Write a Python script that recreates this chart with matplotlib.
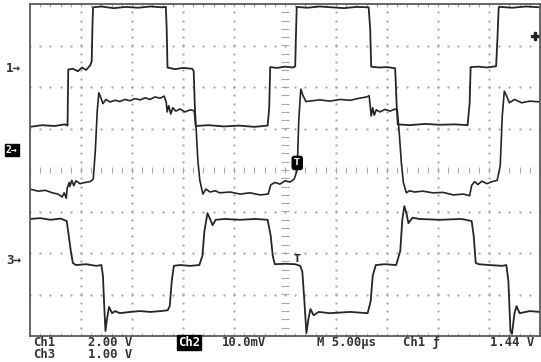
import numpy as np
import matplotlib
matplotlib.use("Agg")
import matplotlib.pyplot as plt

# scope screen: 10 div x 8 div, time in us (5 us/div), traces in screen divisions
ch1_t = [0.0, 1.2, 2.4, 3.4, 3.68, 3.75, 4.2, 4.7, 5.1, 5.5, 5.9, 6.05, 6.12, 6.18, 7.0, 8.2,
         9.4, 10.6, 11.8, 13.0, 13.32, 13.4, 13.48, 14.2, 15.0, 15.9, 16.05, 16.15, 16.25, 17.5,
         19.0, 20.5, 22.0, 23.3, 23.45, 23.55, 24.2, 25.0, 25.8, 26.0, 26.08, 26.15, 27.2, 28.4,
         29.6, 30.8, 32.0, 33.2, 33.35, 33.45, 34.2, 35.0, 35.8, 35.95, 36.05, 37.2, 38.7, 40.2,
         41.7, 42.9, 43.1, 43.2, 44.0, 44.8, 45.7, 45.85, 45.95, 46.05, 47.3, 48.6, 50.0]
ch1_v = [1.04, 1.08, 1.06, 1.10, 1.07, 2.42, 2.44, 2.38, 2.47, 2.41, 2.52, 2.62, 3.45, 3.92,
         3.94, 3.90, 3.93, 3.91, 3.94, 3.92, 3.93, 3.40, 2.47, 2.43, 2.46, 2.44, 2.38, 1.60, 1.06,
         1.08, 1.05, 1.07, 1.04, 1.07, 1.50, 2.48, 2.46, 2.49, 2.47, 2.50, 3.30, 3.93, 3.91, 3.94,
         3.92, 3.90, 3.93, 3.92, 3.40, 2.49, 2.47, 2.48, 2.45, 1.55, 1.10, 1.08, 1.11, 1.09, 1.10,
         1.08, 1.60, 2.48, 2.49, 2.47, 2.50, 3.30, 3.92, 3.93, 3.91, 3.94, 3.92]

ch2_t = [0.0, 0.8, 1.5, 2.2, 2.75, 3.15, 3.35, 3.55, 3.65, 3.85, 3.9, 4.1, 4.3, 4.5, 4.9, 5.4,
         5.9, 6.2, 6.4, 6.6, 6.75, 6.95, 7.15, 7.45, 7.85, 8.35, 8.8, 9.3, 9.8, 10.3, 10.8, 11.3,
         11.75, 12.25, 12.75, 13.15, 13.35, 13.45, 13.6, 13.8, 14.0, 14.3, 14.7, 15.2, 15.7, 16.1,
         16.3, 16.45, 16.65, 16.95, 17.25, 17.65, 18.15, 18.6, 19.6, 20.6, 21.55, 22.55, 23.35,
         23.6, 24.0, 24.5, 25.0, 25.5, 25.9, 26.2, 26.35, 26.55, 26.75, 27.05, 27.4, 28.4, 29.4,
         30.4, 31.4, 32.3, 33.0, 33.25, 33.35, 33.45, 33.6, 33.75, 33.95, 34.3, 34.8, 35.3, 35.8,
         36.0, 36.2, 36.4, 36.6, 36.9, 37.2, 37.7, 38.5, 39.5, 40.5, 41.5, 42.5, 43.1, 43.3, 43.6,
         43.9, 44.3, 44.8, 45.3, 45.8, 46.1, 46.3, 46.5, 46.7, 47.0, 47.5, 48.2, 49.0, 50.0]
ch2_v = [-0.46, -0.51, -0.49, -0.55, -0.58, -0.65, -0.55, -0.68, -0.43, -0.30, -0.40, -0.25,
         -0.38, -0.26, -0.33, -0.30, -0.28, -0.22, 0.45, 1.45, 1.86, 1.74, 1.60, 1.70, 1.64, 1.68,
         1.65, 1.70, 1.67, 1.72, 1.69, 1.74, 1.70, 1.76, 1.73, 1.78, 1.64, 1.40, 1.55, 1.35, 1.50,
         1.42, 1.47, 1.40, 1.45, 1.43, 0.95, 0.25, -0.25, -0.58, -0.46, -0.53, -0.50, -0.55, -0.53,
         -0.58, -0.55, -0.60, -0.58, -0.36, -0.30, -0.34, -0.26, -0.29, -0.22, 0.0, 1.20, 1.95,
         1.80, 1.65, 1.66, 1.69, 1.66, 1.70, 1.68, 1.73, 1.76, 1.79, 1.55, 1.30, 1.50, 1.32, 1.45,
         1.40, 1.46, 1.42, 1.47, 1.44, 0.90, 0.20, -0.30, -0.55, -0.50, -0.53, -0.51, -0.55, -0.54,
         -0.60, -0.58, -0.62, -0.37, -0.28, -0.35, -0.27, -0.33, -0.28, -0.25, 0.10, 1.30, 1.90,
         1.80, 1.62, 1.70, 1.62, 1.66, 1.64]

ch3_t = [0.0, 1.0, 2.0, 3.0, 3.6, 3.8, 4.0, 4.2, 4.5, 5.5, 6.5, 7.0, 7.15, 7.3, 7.4, 7.55, 7.75,
         8.05, 8.35, 8.8, 9.8, 10.8, 11.8, 12.8, 13.5, 13.7, 13.9, 14.1, 14.7, 15.7, 16.6, 16.9,
         17.1, 17.4, 17.65, 17.9, 18.2, 19.1, 20.6, 22.1, 23.3, 23.6, 23.8, 24.0, 25.0, 26.0, 26.5,
         26.7, 26.9, 27.1, 27.3, 27.5, 27.8, 28.3, 29.4, 31.4, 33.1, 33.4, 33.6, 33.9, 34.8, 35.9,
         36.3, 36.5, 36.7, 36.9, 37.1, 37.5, 38.2, 40.2, 42.3, 43.3, 43.5, 43.7, 44.0, 45.0, 46.3,
         46.7, 46.9, 47.1, 47.25, 47.5, 47.7, 48.0, 49.0, 50.0]
ch3_v = [-1.18, -1.16, -1.20, -1.17, -1.23, -1.59, -1.95, -2.24, -2.29, -2.27, -2.31, -2.29,
         -2.55, -3.40, -3.88, -3.59, -3.30, -3.45, -3.40, -3.45, -3.42, -3.40, -3.42, -3.40, -3.38,
         -3.28, -2.67, -2.31, -2.29, -2.31, -2.29, -2.07, -1.47, -1.04, -1.18, -1.33, -1.20, -1.18,
         -1.20, -1.18, -1.20, -1.59, -2.07, -2.27, -2.26, -2.27, -2.31, -2.45, -3.16, -3.93, -3.59,
         -3.35, -3.50, -3.42, -3.45, -3.42, -3.45, -3.16, -2.55, -2.29, -2.27, -2.29, -1.95, -1.20,
         -0.87, -1.04, -1.28, -1.15, -1.18, -1.20, -1.18, -1.23, -1.59, -2.24, -2.27, -2.29, -2.31,
         -2.29, -2.67, -3.88, -3.95, -3.45, -3.28, -3.45, -3.40, -3.42]

status_row1 = ["Ch1", "2.00 V", "Ch2", "10.0mV", "M 5.00\u00b5s", "Ch1 \u0192", "1.44 V"]
status_row2 = ["Ch3", "1.00 V"]

W, H = 541, 362
fig = plt.figure(figsize=(W / 100, H / 100), dpi=100)
fig.patch.set_facecolor("white")
ax = fig.add_axes([30 / W, (H - 336) / H, 510 / W, 332 / H])
ax.set_xlim(0, 50)
ax.set_ylim(-4, 4)
ax.set_xticks([])
ax.set_yticks([])
for s in ax.spines.values():
    s.set_color("#5a5a5a")
    s.set_linewidth(1.3)

# graticule
gcol = "#a8a8a8"
fine_t = np.arange(0, 50.01, 1.0)
fine_v = np.arange(-4, 4.01, 0.2)
for xv in range(5, 50, 5):
    if xv != 25:
        ax.plot(np.full(len(fine_v), xv), fine_v, ls="none", marker=".", ms=1.3, color=gcol)
for yv in range(-3, 4):
    if yv != 0:
        ax.plot(fine_t, np.full(len(fine_t), yv), ls="none", marker=".", ms=1.3, color=gcol)
ax.plot(fine_t, np.zeros(len(fine_t)), ls="none", marker="|", ms=4.5, mew=0.8, color=gcol)
ax.plot(np.full(len(fine_v), 25), fine_v, ls="none", marker="_", ms=5.5, mew=0.8, color=gcol)
ax.plot(fine_t, np.full(len(fine_t), 4), ls="none", marker="|", ms=5, mew=0.8, color=gcol)
ax.plot(fine_t, np.full(len(fine_t), -4), ls="none", marker="|", ms=5, mew=0.8, color=gcol)

# traces
tc = "#262626"
ax.plot(ch1_t, ch1_v, color=tc, lw=1.3)
ax.plot(ch2_t, ch2_v, color=tc, lw=1.2)
ax.plot(ch3_t, ch3_v, color=tc, lw=1.3)

# markers on screen
ax.text(26.2, 0.17, "T", color="white", fontsize=6, weight="bold", ha="center", va="center",
        bbox=dict(boxstyle="round,pad=0.25", fc="black", ec="black"))
ax.text(26.2, -2.14, "T", color=tc, fontsize=7, weight="bold", ha="center", va="center")
ax.plot([49.55], [3.22], marker="P", ms=6, color="#222222", clip_on=False)

# channel ground markers
mono = "DejaVu Sans Mono"
fig.text(6 / W, 1 - 68 / H, "1\u2192", family=mono, weight="bold", fontsize=9,
         color="#333333", va="center")
fig.text(6 / W, 1 - 150 / H, "2\u2192", family=mono, weight="bold", fontsize=7,
         color="white", va="center",
         bbox=dict(boxstyle="square,pad=0.15", fc="black", ec="black"))
fig.text(6 / W, 1 - 260 / H, "3\u2192", family=mono, weight="bold", fontsize=9,
         color="#333333", va="center")

# status line
fs = 8.8
xs1 = [33, 88, 178, 222, 317, 403, 490]
for x, s in zip(xs1, status_row1):
    kw = dict(family=mono, weight="bold", fontsize=fs, color="#333333", va="baseline")
    if s == "Ch2":
        kw["color"] = "white"
        kw["bbox"] = dict(boxstyle="square,pad=0.1", fc="black", ec="black")
    fig.text(x / W, 1 - 346 / H, s, **kw)
for x, s in zip([33, 88], status_row2):
    fig.text(x / W, 1 - 358 / H, s, family=mono, weight="bold", fontsize=fs,
             color="#333333", va="baseline")

fig.savefig("out.png", dpi=100)
